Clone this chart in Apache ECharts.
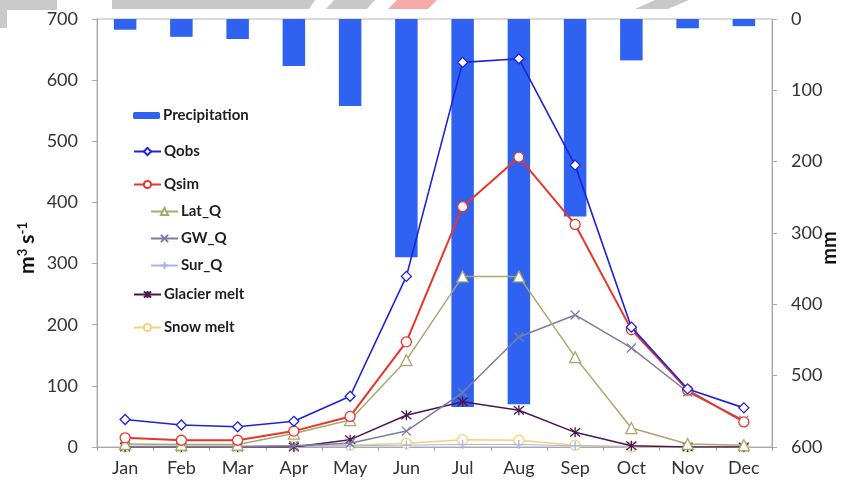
<!DOCTYPE html>
<html>
<head>
<meta charset="utf-8">
<script src="https://cdn.jsdelivr.net/npm/echarts@6/dist/echarts.min.js"></script>
<style>
html,body{margin:0;padding:0;background:#fff;}
#chart{width:844px;height:485px;}
</style>
</head>
<body>
<div id="chart"></div>
<script>
var categories = ['Jan','Feb','Mar','Apr','May','Jun','Jul','Aug','Sep','Oct','Nov','Dec'];
var precipitation = [15, 25, 28, 66, 122, 334, 544, 540, 277, 58, 13, 10];
var qobs = [45, 36, 33, 42, 83, 279, 629, 635, 461, 196, 95, 64];
var qsim = [15, 11, 11, 26, 50, 172, 393, 474, 364, 192, 93, 41];
var latQ = [5, 4, 4, 22, 44, 142, 279, 279, 147, 31, 5, 3];
var gwQ = [1, 1, 1, 2, 6, 26, 89, 180, 216, 162, 90, 44];
var surQ = [1, 1, 1, 1, 2, 3, 4, 4, 2, 1, 0, 0];
var glacierMelt = [0, 0, 0, 0, 12, 52, 74, 60, 24, 2, 0, 0];
var snowMelt = [0, 0, 0, 2, 3, 6, 12, 11, 3, 0, 0, 0];
var leftTicks = [0, 100, 200, 300, 400, 500, 600, 700];
var rightTicks = [0, 100, 200, 300, 400, 500, 600];

var chart = echarts.init(document.getElementById('chart'), null, {renderer: 'canvas'});
var FONT = 'Lato, "Open Sans", sans-serif';
var gridLeft = 97, gridTop = 19, gridRight = 72, gridBottom = 38;

function lineSeries(name, data, color, symbol, size, width, fill, z) {
  return {
    name: name, type: 'line', yAxisIndex: 0, data: data,
    symbol: symbol, symbolSize: size, showAllSymbol: true,
    lineStyle: {color: color, width: width},
    itemStyle: {color: fill, borderColor: color, borderWidth: 1.3},
    z: z, animation: false
  };
}

var XPATH = 'path://M0,0L10,10M10,0L0,10';
var STAR = 'path://M0,0L10,10M10,0L0,10M5,-1L5,11';
var PLUS = 'path://M5,0L5,10M0,5L10,5';

var legendDefs = [
  {name: 'Precipitation', x: 133, y: 117, h: 7},
  {name: 'Qobs', x: 133, y: 153, h: 9},
  {name: 'Qsim', x: 133, y: 186, h: 9},
  {name: 'Lat_Q', x: 150, y: 213, h: 9},
  {name: 'GW_Q', x: 150, y: 240, h: 9},
  {name: 'Sur_Q', x: 150, y: 267, h: 9},
  {name: 'Glacier melt', x: 133, y: 296, h: 9},
  {name: 'Snow melt', x: 133, y: 329, h: 9}
];
var legends = legendDefs.map(function (d) {
  return {
    data: [d.name], left: d.x, top: d.y - 9, orient: 'vertical', padding: 0,
    itemWidth: 27, itemHeight: d.h, itemGap: 0, selectedMode: false,
    textStyle: {fontFamily: FONT, fontWeight: 'bold', fontSize: 15, color: '#1e1e1e', padding: [0, 0, 0, -2]}
  };
});

var option = {
  backgroundColor: '#ffffff',
  animation: false,
  grid: {left: gridLeft, right: gridRight, top: gridTop, bottom: gridBottom, show: true, borderColor: '#b4b4b4', borderWidth: 1},
  legend: legends,
  xAxis: {
    type: 'category', data: categories, boundaryGap: true,
    axisLine: {lineStyle: {color: '#a8a8a8', width: 1}},
    axisTick: {show: true, length: 4, lineStyle: {color: '#a8a8a8'}},
    axisLabel: {fontFamily: FONT, fontSize: 18, color: '#333', margin: 12},
    splitLine: {show: false}
  },
  yAxis: [
    {
      type: 'value', min: leftTicks[0], max: leftTicks[leftTicks.length - 1], interval: 100,
      position: 'left',
      axisLine: {show: true, lineStyle: {color: '#a8a8a8'}},
      axisTick: {show: true, length: 5, lineStyle: {color: '#a8a8a8'}},
      axisLabel: {fontFamily: FONT, fontSize: 18, color: '#333', margin: 19},
      splitLine: {show: false}
    },
    {
      type: 'value', min: rightTicks[0], max: rightTicks[rightTicks.length - 1], interval: 100,
      position: 'right', inverse: true,
      axisLine: {show: true, lineStyle: {color: '#a8a8a8'}},
      axisTick: {show: true, length: 5, lineStyle: {color: '#a8a8a8'}},
      axisLabel: {fontFamily: FONT, fontSize: 18, color: '#333', margin: 19},
      splitLine: {show: false}
    }
  ],
  graphic: [
    {type: 'rect', shape: {x: 0, y: 0, width: 57, height: 10}, style: {fill: '#c9c9c9'}, z: 100},
    {type: 'rect', shape: {x: 0, y: 10, width: 7, height: 18}, style: {fill: '#c9c9c9'}, z: 100},
    {type: 'polygon', shape: {points: [[112, 0], [315, 0], [309, 9], [112, 9]]}, style: {fill: '#c8c8c8'}, z: 100},
    {type: 'polygon', shape: {points: [[334, 0], [375, 0], [367, 9], [326, 9]]}, style: {fill: '#c8c8c8'}, z: 100},
    {type: 'polygon', shape: {points: [[397, 0], [437, 0], [428, 9], [388, 9]]}, style: {fill: '#f6a9a9'}, z: 100},
    {type: 'polygon', shape: {points: [[655, 0], [689, 0], [668, 9], [635, 9]]}, style: {fill: '#c8c8c8'}, z: 100},
    {
      type: 'text', x: 27, y: 248, rotation: Math.PI / 2, z: 100,
      style: {
        text: 'm{s|3} s{s|-1}', align: 'center', verticalAlign: 'middle',
        font: 'bold 21px ' + FONT, fill: '#111',
        rich: {s: {fontSize: 13, fontWeight: 'bold', fontFamily: FONT, verticalAlign: 'top', lineHeight: 22, fill: '#111'}}
      }
    },
    {
      type: 'text', x: 830, y: 248, rotation: Math.PI / 2, z: 100,
      style: {text: 'mm', align: 'center', verticalAlign: 'middle', font: 'bold 20px ' + FONT, fill: '#111'}
    }
  ],
  series: [
    {
      name: 'Precipitation', type: 'bar', yAxisIndex: 1, data: precipitation,
      barWidth: '40%', itemStyle: {color: '#2f62f0'}, z: 1
    },
    lineSeries('Qobs', qobs, '#1c22dc', 'diamond', 10, 1.6, '#ffffff', 9),
    lineSeries('Qsim', qsim, '#e8352c', 'circle', 10, 2, '#ffffff', 8),
    lineSeries('Lat_Q', latQ, '#a8a86c', 'triangle', 11, 1.5, '#ffffff', 7),
    lineSeries('GW_Q', gwQ, '#7c7ca2', XPATH, 9, 1.5, '#7c7ca2', 6),
    lineSeries('Sur_Q', surQ, '#a9b2ea', PLUS, 9, 1, '#a9b2ea', 4),
    lineSeries('Glacier melt', glacierMelt, '#4d1552', STAR, 10, 1.5, '#4d1552', 5),
    lineSeries('Snow melt', snowMelt, '#f1d27a', 'circle', 10, 1.5, '#ffffff', 3)
  ]
};
chart.setOption(option);
</script>
</body>
</html>
